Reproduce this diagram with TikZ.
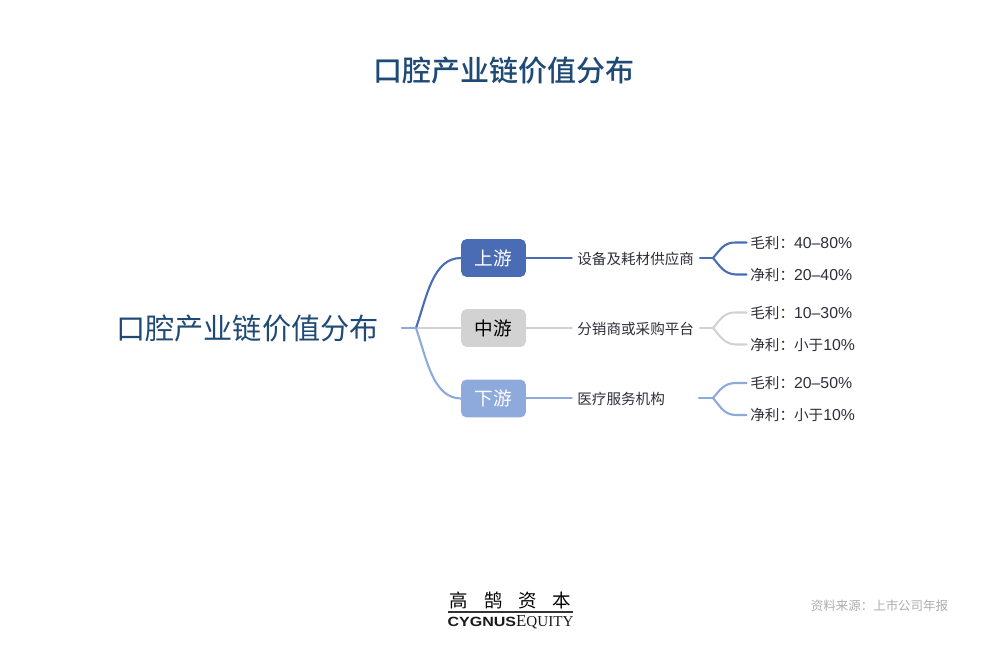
\documentclass[tikz,border=0pt]{standalone}
\usepackage{fontspec}
\setmainfont{Noto Sans CJK SC}
\newfontfamily\logolatin{Liberation Serif}
\newfontfamily\logosans[FakeStretch=1.2]{Liberation Sans}
\newfontfamily\digitfont{Liberation Sans}
\newfontfamily\titlefont{Noto Sans CJK SC Medium}
\usetikzlibrary{positioning}
\definecolor{titleblue}{HTML}{1F4A75}
\definecolor{upblue}{HTML}{4A6CB5}
\definecolor{midgray}{HTML}{D2D2D2}
\definecolor{downblue}{HTML}{8EAADC}
\definecolor{labeltext}{HTML}{2E2E3A}
\newcommand{\marginnum}[1]{{\digitfont\fontsize{9}{10}\selectfont #1}}
\tikzset{
  headline/.style={text=titleblue,font=\fontsize{16.5}{18}\selectfont\titlefont,inner sep=0pt},
  rootlabel/.style={text=titleblue,font=\fontsize{16.6}{18}\selectfont,inner sep=0pt},
  stage node/.style={rectangle,rounded corners=3pt,minimum width=36.8pt,minimum height=21.5pt,inner sep=0pt,font=\fontsize{10.6}{12}\selectfont},
  firm label/.style={text=labeltext,font=\fontsize{8.3}{10}\selectfont,inner sep=0pt},
  margin label/.style={text=labeltext,font=\fontsize{8.3}{10}\selectfont,inner sep=0pt,anchor=west},
  link/.style={line width=1.2pt,line cap=round},
}
\begin{document}
\begin{tikzpicture}[x=0.02cm,y=-0.02cm]
\useasboundingbox (0, 0) rectangle (1000, 650);
\node[headline] (title) at (504, 71) {口腔产业链价值分布};
\node[rootlabel] (root) at (247.5, 328.5) {口腔产业链价值分布};
\coordinate (rootend) at (402, 328);
\coordinate (fork) at (416, 328);
% three stages
\node[stage node,fill=upblue,text=white] (up) at (493.5, 258) {上游};
\node[stage node,fill=midgray,text=black] (mid) at (493.5, 328) {中游};
\node[stage node,fill=downblue,text=white] (down) at (493.5, 398.5) {下游};
\node[firm label,anchor=west] (upfirm) at (577, 258.5) {设备及耗材供应商};
\node[firm label,anchor=west] (midfirm) at (577, 328.5) {分销商或采购平台};
\node[firm label,anchor=west] (downfirm) at (577, 398.5) {医疗服务机构};
% margins
\node[margin label] (upgross) at (750, 242.5) {毛利：\marginnum{40–80\%}};
\node[margin label] (upnet) at (750, 274.5) {净利：\marginnum{20–40\%}};
\node[margin label] (midgross) at (750, 312.5) {毛利：\marginnum{10–30\%}};
\node[margin label] (midnet) at (750, 344.5) {净利：小于\marginnum{10\%}};
\node[margin label] (downgross) at (750, 383) {毛利：\marginnum{20–50\%}};
\node[margin label] (downnet) at (750, 415) {净利：小于\marginnum{10\%}};
\coordinate (upfork) at (713, 258);
\coordinate (midfork) at (713, 328);
\coordinate (downfork) at (713, 398);
\coordinate (upstub) at (700, 258);
\coordinate (midstub) at (700, 328);
\coordinate (downstub) at (699, 398);
% connectors, light ones first
\draw[link,downblue] (fork) .. controls (427, 360) and (433, 398) .. (down.west);
\draw[link,midgray] (rootend) -- (mid.west);
\draw[link,upblue] (fork) .. controls (427, 296) and (433, 258) .. (up.west);
\draw[link,midgray,shorten >=3pt] (mid.east) -- (mid.east -| midfirm.west);
\draw[link,upblue,shorten >=3pt] (up.east) -- (up.east -| upfirm.west);
\draw[link,downblue,shorten >=3pt] ([yshift=0.3pt]down.east) -- ([yshift=0.3pt]down.east -| downfirm.west);
\draw[link,upblue] (upstub) -- (upfork);
\draw[link,upblue] (upfork) .. controls (720, 250) and (724, 242) .. ([xshift=-8pt]upgross.west) -- ([xshift=-2pt]upgross.west);
\draw[link,upblue] (upfork) .. controls (720, 266) and (724, 274) .. ([xshift=-8pt]upnet.west) -- ([xshift=-2pt]upnet.west);
\draw[link,midgray] (midstub) -- (midfork);
\draw[link,midgray] (midfork) .. controls (720, 320) and (724, 312) .. ([xshift=-8pt]midgross.west) -- ([xshift=-2pt]midgross.west);
\draw[link,midgray] (midfork) .. controls (720, 336) and (724, 344) .. ([xshift=-8pt]midnet.west) -- ([xshift=-2pt]midnet.west);
\draw[link,downblue] (downstub) -- (downfork);
\draw[link,downblue] (downfork) .. controls (720, 390) and (724, 383) .. ([xshift=-8pt]downgross.west) -- ([xshift=-2pt]downgross.west);
\draw[link,downblue] (downfork) .. controls (720, 406) and (724, 415) .. ([xshift=-8pt]downnet.west) -- ([xshift=-2pt]downnet.west);
\draw[link,downblue] (rootend) -- (fork);
% logo and source
\node[inner sep=0pt,font=\fontsize{10.5}{12}\selectfont] (logocn) at (510.5, 600) {高\hspace{9pt}鹄\hspace{9pt}资\hspace{9pt}本};
\coordinate (ruleleft) at (448, 612);
\coordinate (ruleright) at (573, 612);
\draw[line width=0.6pt,black!80] (ruleleft) -- (ruleright);
\node[inner sep=0pt,text=black!90] (logoen) at (510.5, 622) {{\logosans\bfseries\fontsize{7.6}{8}\selectfont CYGNUS}{\logolatin\fontsize{9.6}{10}\selectfont E\fontsize{8.6}{8}\selectfont QUITY}};
\node[inner sep=0pt,text=black!32,font=\fontsize{7.1}{8}\selectfont] (source) at (879.5, 606) {资料来源：上市公司年报};
\end{tikzpicture}
\end{document}
